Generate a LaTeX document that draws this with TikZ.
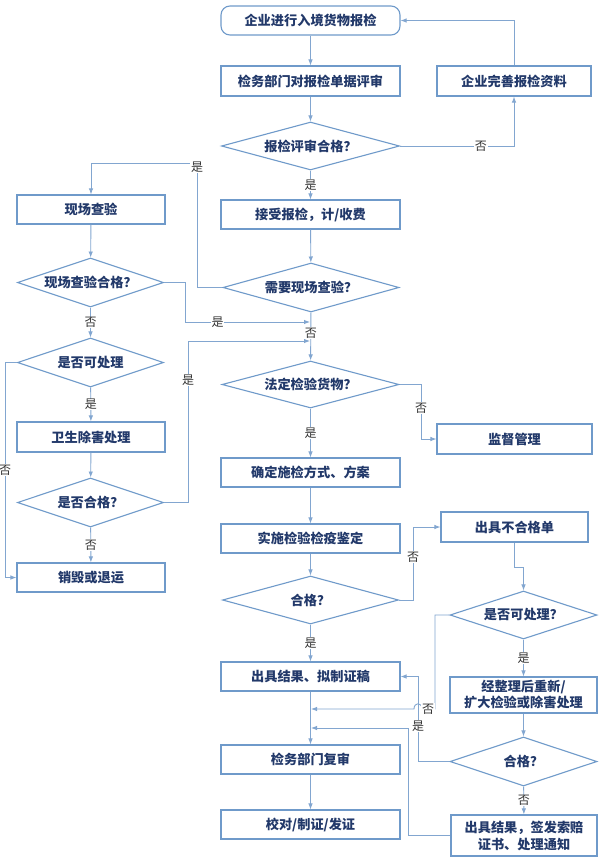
\documentclass[tikz,border=0pt]{standalone}
\usepackage{fontspec}
\setmainfont{Noto Sans CJK SC}
\usetikzlibrary{shapes.geometric,arrows.meta}
\definecolor{bline}{HTML}{6F9ACA}
\definecolor{cline}{HTML}{82A6D0}
\definecolor{txt}{HTML}{22396A}
\newcommand{\nfont}{\fontsize{13.2}{15}\selectfont\bfseries}
\newcommand{\lfont}{\fontsize{12}{12}\selectfont}
\tikzset{
  box/.style={draw=bline, line width=1.1pt, minimum height=29pt, inner sep=0pt, text=txt, font=\nfont, align=center},
  mbox/.style={box, minimum width=179pt},
  lbox/.style={box, minimum width=148pt},
  dia/.style={diamond, aspect=3.7, draw=bline, line width=1.1pt, minimum width=178pt, minimum height=48pt, inner sep=0pt, text=txt, font=\nfont},
  ldia/.style={dia, aspect=3, minimum width=146pt, minimum height=49pt},
  conn/.style={draw=cline, line width=0.9pt, -{Latex[length=6pt,width=4.5pt]}},
  lab/.style={fill=white, inner sep=0.6pt, text=black!80, font=\lfont}
}
\begin{document}
\begin{tikzpicture}[x=1pt,y=-1pt]
\useasboundingbox (0,0) rectangle (598,857);
\fill[white] (0,0) rectangle (598,857);
% main column
\node[mbox, rounded corners=9pt] (n1) at (310.5,20.5) {企业进行入境货物报检};
\node[mbox, minimum height=30pt] (n2) at (310.5,81) {检务部门对报检单据评审};
\node[box, minimum width=154pt, minimum height=30pt] (n3) at (514,81) {企业完善报检资料};
\node[dia] (d1) at (310.5,146) {报检评审合格？};
\node[mbox] (n4) at (310.5,214.5) {接受报检，计/收费};
\node[dia, minimum width=176pt, minimum height=49pt] (d2) at (311,287.5) {需要现场查验？};
\node[dia, minimum width=177pt, minimum height=47pt] (d3) at (310.5,384.5) {法定检验货物？};
\node[box, minimum width=155pt, minimum height=30pt] (r1) at (514.5,439) {监督管理};
\node[mbox] (n5) at (310.5,472.5) {确定施检方式、方案};
\node[mbox] (n6) at (310.5,538.5) {实施检验检疫鉴定};
\node[dia, minimum width=176pt] (d4) at (310.5,600) {合格？};
\node[mbox] (n7) at (310.5,676.5) {出具结果、拟制证稿};
\node[mbox] (n8) at (310.5,759.5) {检务部门复审};
\node[mbox] (n9) at (310.5,824.5) {校对/制证/发证};
% left column
\node[lbox] (l1) at (91,209.5) {现场查验};
\node[ldia] (ld1) at (90.5,282.5) {现场查验合格？};
\node[ldia] (ld2) at (90.5,362.5) {是否可处理};
\node[lbox, minimum height=30pt] (l2) at (91,437) {卫生除害处理};
\node[ldia] (ld3) at (90.5,502.5) {是否合格？};
\node[lbox] (l3) at (91,577.5) {销毁或退运};
% right column
\node[box, minimum width=147pt, minimum height=30pt] (r2) at (514.5,527) {出具不合格单};
\node[ldia, minimum width=147pt, minimum height=48pt] (rd1) at (523.5,615) {是否可处理？};
\node[box, minimum width=147pt, minimum height=36pt, font=\fontsize{13.2}{16}\selectfont\bfseries] (r3) at (523.5,695) {经整理后重新/\\扩大检验或除害处理};
\node[ldia, minimum width=147pt] (rd2) at (523.5,761.5) {合格？};
\node[box, minimum width=146pt, minimum height=41pt, font=\fontsize{13.2}{17}\selectfont\bfseries] (r4) at (524,835.5) {出具结果，签发索赔\\证书、处理通知};
% junction points on main line
\coordinate (j1) at (310,322);
\coordinate (j2) at (310,341);
\coordinate (j3) at (311,709);
\coordinate (j4) at (311,728);
% connectors
\draw[conn] (n1) -- (n2);
\draw[conn] (n2) -- (d1);
\draw[conn] (d1) -- node[lab]{是} (n4);
\draw[conn] (d1.east) -| node[lab, pos=0.355]{否} (n3.south);
\draw[conn] (n3.north) |- (n1.east);
\draw[conn] (n4) -- (d2);
\draw[conn] (d2.west) -- (197,287.5) -- node[lab, pos=0.97]{是} (197,163) -| (l1.north);
\draw[conn] (l1) -- (ld1);
\draw[conn] (ld1.east) -- (185,282.5) |- node[lab, pos=0.63]{是} (j1);
\draw[conn] (ld1) -- node[lab]{否} (ld2);
\draw[conn] (ld2) -- node[lab]{是} (l2);
\draw[conn] (ld2.west) -- (5,362.5) |- node[lab, pos=0.25]{否} (l3.west);
\draw[conn] (l2) -- (ld3);
\draw[conn] (ld3) -- node[lab]{否} (l3);
\draw[conn] (ld3.east) -- (188,502.5) |- node[lab, pos=0.38]{是} (j2);
\draw[conn] (d2) -- node[lab, pos=0.43]{否} (d3);
\draw[conn] (d3.east) -- (421,384.5) |- node[lab, pos=0.215]{否} (r1.west);
\draw[conn] (d3) -- node[lab]{是} (n5);
\draw[conn] (n5) -- (n6);
\draw[conn] (n6) -- (d4);
\draw[conn] (d4.east) -- (413,600) |- node[lab, pos=0.295]{否} (r2.west);
\draw[conn] (r2.south) -- (514.5,567) -| (rd1.north);
\draw[conn] (rd1) -- node[lab]{是} (r3);
\draw[conn] (r3) -- (rd2);
\draw[conn] (rd2) -- node[lab]{否} (r4);
\draw[conn] (d4) -- node[lab]{是} (n7);
\draw[conn] (n7) -- (n8);
\draw[conn] (n8) -- (n9);
\draw[conn] (rd1.west) -- (435,615) -- (435,709) -- (422,709)
   .. controls (422,702) and (414,702) .. (414,709) -- (j3);
\node[lab] (lno) at (428,709) {否};
\draw[conn] (rd2.west) -- (418,761.5) |- node[lab, pos=0.21]{是} (n7.east);
\draw[conn] (r4.west) -- (408,835.5) |- (j4);
\end{tikzpicture}
\end{document}
